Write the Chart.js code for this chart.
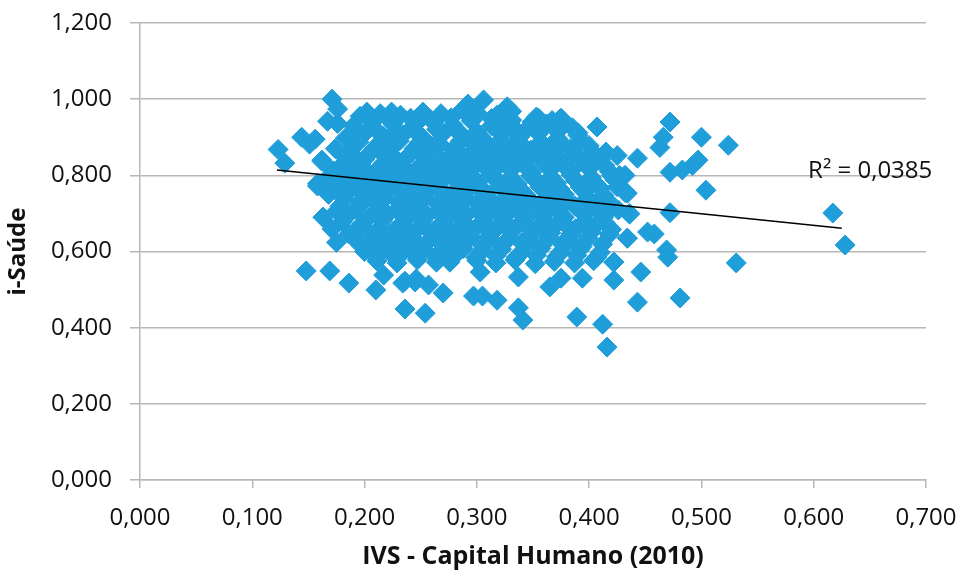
<!DOCTYPE html>
<html>
<head>
<meta charset="utf-8">
<script src="https://cdn.jsdelivr.net/npm/chart.js@4"></script>
<style>
  html, body { margin: 0; padding: 0; background: #fff; }
  #chart { display: block; }
</style>
</head>
<body>
<canvas id="chart" width="968" height="577"></canvas>
<script>
// IVS - Capital Humano (x) vs i-Saúde (y)
const nucleoSuperior = [
    [0.196,0.955],[0.214,0.962],[0.232,0.958],[0.251,0.950],[0.268,0.962],[0.287,0.972],[0.300,0.965],[0.318,0.958],[0.331,0.968],[0.355,0.950],[0.374,0.948],
    [0.176,0.936],[0.190,0.930],[0.207,0.940],[0.225,0.935],[0.243,0.928],[0.262,0.940],[0.279,0.932],[0.296,0.945],[0.313,0.930],[0.329,0.938],[0.346,0.925],[0.362,0.935],[0.385,0.925],
    [0.183,0.898],[0.200,0.910],[0.217,0.902],[0.234,0.906],[0.252,0.898],[0.270,0.910],[0.288,0.903],[0.305,0.897],[0.322,0.908],[0.338,0.900],[0.355,0.910],[0.372,0.897],[0.390,0.905],
    [0.174,0.870],[0.191,0.878],[0.209,0.872],[0.226,0.880],[0.244,0.870],[0.261,0.876],[0.279,0.868],[0.297,0.880],[0.314,0.872],[0.331,0.878],[0.348,0.866],[0.366,0.876],[0.383,0.870],[0.400,0.878],[0.415,0.861],
    [0.162,0.840],[0.183,0.846],[0.200,0.842],[0.218,0.850],[0.235,0.840],[0.253,0.848],[0.270,0.838],[0.288,0.850],[0.306,0.842],[0.323,0.846],[0.340,0.838],[0.357,0.848],[0.374,0.840],[0.392,0.846],[0.410,0.842],[0.425,0.852]
];
const nucleoCentral = [
    [0.172,0.812],[0.192,0.818],[0.210,0.810],[0.227,0.820],[0.245,0.812],[0.262,0.816],[0.280,0.808],[0.297,0.820],[0.315,0.812],[0.332,0.818],[0.349,0.808],[0.366,0.816],[0.384,0.812],[0.401,0.820],[0.418,0.810],[0.432,0.800],
    [0.158,0.778],[0.178,0.786],[0.196,0.780],[0.214,0.790],[0.231,0.782],[0.249,0.786],[0.266,0.778],[0.284,0.790],[0.301,0.782],[0.319,0.786],[0.336,0.778],[0.353,0.788],[0.371,0.780],[0.388,0.786],[0.406,0.778],[0.423,0.788],
    [0.168,0.750],[0.186,0.758],[0.204,0.750],[0.221,0.760],[0.239,0.752],[0.256,0.756],[0.274,0.748],[0.291,0.758],[0.309,0.752],[0.326,0.756],[0.344,0.748],[0.361,0.758],[0.378,0.750],[0.396,0.756],[0.413,0.748],[0.432,0.755],
    [0.178,0.719],[0.195,0.728],[0.212,0.720],[0.230,0.730],[0.247,0.722],[0.265,0.726],[0.282,0.718],[0.300,0.728],[0.317,0.722],[0.334,0.726],[0.352,0.718],[0.369,0.728],[0.387,0.720],[0.404,0.726],[0.421,0.718],
    [0.163,0.690],[0.186,0.698],[0.204,0.690],[0.221,0.698],[0.239,0.692],[0.256,0.696],[0.274,0.688],[0.291,0.698],[0.309,0.692],[0.326,0.696],[0.344,0.688],[0.361,0.698],[0.378,0.690],[0.396,0.696],[0.413,0.690],[0.436,0.698]
];
const nucleoInferior = [
    [0.171,0.659],[0.196,0.668],[0.213,0.660],[0.231,0.668],[0.248,0.662],[0.266,0.666],[0.283,0.658],[0.301,0.668],[0.318,0.662],[0.336,0.666],[0.353,0.658],[0.370,0.668],[0.388,0.660],[0.405,0.666],[0.420,0.658],
    [0.175,0.624],[0.190,0.638],[0.207,0.632],[0.225,0.638],[0.242,0.630],[0.260,0.636],[0.277,0.628],[0.295,0.638],[0.312,0.632],[0.329,0.636],[0.347,0.628],[0.364,0.638],[0.382,0.630],[0.399,0.636],[0.434,0.635],
    [0.200,0.600],[0.218,0.608],[0.235,0.600],[0.253,0.606],[0.270,0.598],[0.288,0.608],[0.305,0.602],[0.322,0.606],[0.340,0.598],[0.357,0.608],[0.375,0.600],[0.392,0.606],[0.410,0.598],
    [0.211,0.575],[0.229,0.570],[0.247,0.578],[0.264,0.572],[0.276,0.572],[0.300,0.576],[0.317,0.570],[0.334,0.578],[0.352,0.568],[0.369,0.574],[0.387,0.570],[0.404,0.576],[0.422,0.572],
    [0.217,0.538],[0.236,0.522],[0.246,0.528],[0.257,0.512],[0.303,0.546],[0.337,0.533],[0.365,0.507],[0.375,0.530],[0.394,0.530],[0.422,0.525]
];
// pontos intercalados que fecham o miolo da nuvem
const nucleoIntercalado = [
    [0.205,0.948],[0.223,0.944],[0.241,0.950],[0.259,0.946],[0.277,0.951],[0.295,0.943],[0.313,0.949],[0.331,0.945],[0.349,0.940],[0.367,0.944],
    [0.192,0.915],[0.210,0.920],[0.228,0.916],[0.246,0.913],[0.264,0.921],[0.282,0.917],[0.300,0.914],[0.318,0.920],[0.336,0.916],[0.354,0.922],[0.372,0.915],[0.390,0.912],
    [0.195,0.888],[0.213,0.884],[0.231,0.890],[0.249,0.886],[0.267,0.882],[0.285,0.889],[0.303,0.885],[0.321,0.891],[0.339,0.884],[0.357,0.888],[0.375,0.885],[0.393,0.890],
    [0.188,0.858],[0.206,0.862],[0.224,0.855],[0.242,0.859],[0.260,0.862],[0.278,0.854],[0.296,0.860],[0.314,0.857],[0.332,0.862],[0.350,0.855],[0.368,0.859],[0.386,0.856],[0.404,0.860],
    [0.180,0.828],[0.198,0.824],[0.216,0.830],[0.234,0.826],[0.252,0.831],[0.270,0.824],[0.288,0.829],[0.306,0.825],[0.324,0.832],[0.342,0.826],[0.360,0.830],[0.378,0.824],[0.396,0.829],[0.414,0.826],
    [0.168,0.796],[0.186,0.800],[0.204,0.794],[0.222,0.799],[0.240,0.802],[0.258,0.795],[0.276,0.800],[0.294,0.797],[0.312,0.802],[0.330,0.794],[0.348,0.799],[0.366,0.796],[0.384,0.801],[0.402,0.795],[0.420,0.799],
    [0.176,0.768],[0.194,0.764],[0.212,0.770],[0.230,0.766],[0.248,0.771],[0.266,0.764],[0.284,0.769],[0.302,0.765],[0.320,0.772],[0.338,0.766],[0.356,0.770],[0.374,0.764],[0.392,0.769],[0.410,0.766],[0.425,0.770],
    [0.182,0.738],[0.200,0.734],[0.218,0.740],[0.236,0.736],[0.254,0.741],[0.272,0.734],[0.290,0.739],[0.308,0.735],[0.326,0.742],[0.344,0.736],[0.362,0.740],[0.380,0.734],[0.398,0.739],[0.416,0.736],
    [0.175,0.706],[0.193,0.710],[0.211,0.704],[0.229,0.709],[0.247,0.712],[0.265,0.705],[0.283,0.710],[0.301,0.707],[0.319,0.712],[0.337,0.704],[0.355,0.709],[0.373,0.706],[0.391,0.711],[0.409,0.705],[0.426,0.709],
    [0.180,0.678],[0.198,0.674],[0.216,0.680],[0.234,0.676],[0.252,0.681],[0.270,0.674],[0.288,0.679],[0.306,0.675],[0.324,0.682],[0.342,0.676],[0.360,0.680],[0.378,0.674],[0.396,0.679],[0.414,0.676],
    [0.186,0.646],[0.204,0.650],[0.222,0.644],[0.240,0.649],[0.258,0.652],[0.276,0.645],[0.294,0.650],[0.312,0.647],[0.330,0.652],[0.348,0.644],[0.366,0.649],[0.384,0.646],[0.402,0.651],[0.418,0.645],
    [0.196,0.618],[0.214,0.614],[0.232,0.620],[0.250,0.616],[0.268,0.621],[0.286,0.614],[0.304,0.619],[0.322,0.615],[0.340,0.622],[0.358,0.616],[0.376,0.620],[0.394,0.614],[0.412,0.619],
    [0.209,0.588],[0.227,0.584],[0.245,0.590],[0.263,0.586],[0.281,0.591],[0.299,0.584],[0.317,0.589],[0.335,0.585],[0.353,0.590],[0.371,0.586],[0.389,0.590],[0.407,0.585]
];
const bordaEsquerda = [
    [0.123,0.868],[0.129,0.832],[0.144,0.900],[0.151,0.882],[0.156,0.895],[0.167,0.942],[0.176,0.974],[0.171,1.000],
    [0.162,0.837],[0.202,0.966],[0.224,0.966],[0.252,0.966],[0.158,0.772],[0.163,0.690],[0.187,0.790],
    [0.148,0.549],[0.169,0.549],[0.186,0.517],[0.210,0.499],[0.234,0.517],[0.245,0.520],[0.270,0.491],
    [0.236,0.449],[0.254,0.438],[0.297,0.483],[0.305,0.483],[0.318,0.472]
];
const bordaDireita = [
    [0.306,0.998],[0.292,0.987],[0.327,0.980],[0.353,0.953],[0.375,0.950],[0.407,0.927],[0.443,0.845],[0.427,0.800],
    [0.434,0.753],[0.436,0.700],[0.434,0.635],[0.458,0.646],[0.452,0.651],[0.470,0.585],[0.469,0.604],[0.446,0.546],
    [0.422,0.572],[0.443,0.467],[0.481,0.478],[0.389,0.428],[0.412,0.409],[0.416,0.349],[0.341,0.420],[0.337,0.452],
    [0.472,0.940],[0.466,0.900],[0.463,0.873],[0.472,0.808],[0.483,0.814],[0.492,0.826],[0.497,0.840],[0.472,0.702],
    [0.500,0.900],[0.524,0.879],[0.504,0.761],[0.531,0.570],[0.617,0.701],[0.628,0.617]
];

// linha de tendência (extremos)
const trendX = [0.122, 0.625];
const trendY = [0.814, 0.661];
const r2Text = 'R² = 0,0385';
const r2Pos = [0.595, 0.810];

const xTicks = [0, 0.1, 0.2, 0.3, 0.4, 0.5, 0.6, 0.7];
const yTicks = [0, 0.2, 0.4, 0.6, 0.8, 1.0, 1.2];

const pointColor = '#1f9ed9';
const gridColor = '#b7b7b7';
const textColor = '#111';
const fontFamily = '"Open Sans", "Liberation Sans", sans-serif';

const fmt = v => v.toFixed(3).replace('.', ',');

const pontos = [...nucleoSuperior, ...nucleoCentral, ...nucleoInferior, ...nucleoIntercalado, ...bordaEsquerda, ...bordaDireita]
    .map(p => ({x: p[0], y: p[1]}));
const trend = trendX.map((x, i) => ({x: x, y: trendY[i]}));

const r2Plugin = {
    id: 'r2Label',
    afterDatasetsDraw(chart) {
        const {ctx, scales} = chart;
        ctx.save();
        ctx.font = '24px ' + fontFamily;
        ctx.fillStyle = textColor;
        ctx.textAlign = 'left';
        ctx.textBaseline = 'middle';
        ctx.fillText(r2Text, scales.x.getPixelForValue(r2Pos[0]), scales.y.getPixelForValue(r2Pos[1]));
        ctx.restore();
    }
};

new Chart(document.getElementById('chart').getContext('2d'), {
    type: 'scatter',
    data: {
        datasets: [
            {
                type: 'line',
                data: trend,
                borderColor: '#000',
                borderWidth: 1.5,
                pointRadius: 0,
                fill: false,
                order: 0
            },
            {
                data: pontos,
                pointStyle: 'rectRot',
                pointRadius: 10,
                pointHoverRadius: 10,
                backgroundColor: pointColor,
                borderColor: pointColor,
                borderWidth: 1,
                order: 1
            }
        ]
    },
    options: {
        responsive: false,
        animation: false,
        devicePixelRatio: 1,
        layout: { padding: { top: 23, right: 42, bottom: 0, left: 0 } },
        plugins: { legend: { display: false }, tooltip: { enabled: false } },
        scales: {
            x: {
                type: 'linear',
                min: 0,
                max: 0.7,
                afterBuildTicks: s => { s.ticks = xTicks.map(v => ({value: v})); },
                afterFit: s => { s.height = 97; s.paddingLeft = 0; s.paddingRight = 0; },
                ticks: {
                    callback: v => fmt(v),
                    font: { family: fontFamily, size: 24 },
                    color: textColor,
                    padding: 16,
                    maxRotation: 0
                },
                grid: { drawOnChartArea: false, drawTicks: true, tickLength: 8, color: gridColor, lineWidth: 1.5 },
                border: { display: true, color: gridColor, width: 1.5 },
                title: {
                    display: true,
                    text: 'IVS - Capital Humano (2010)',
                    font: { family: fontFamily, size: 25, weight: 'bold' },
                    color: textColor,
                    padding: { top: 0, bottom: 5 }
                }
            },
            y: {
                min: 0,
                max: 1.2,
                afterBuildTicks: s => { s.ticks = yTicks.map(v => ({value: v})); },
                afterFit: s => { s.width = 140; s.paddingTop = 0; s.paddingBottom = 0; },
                ticks: {
                    callback: v => fmt(v),
                    font: { family: fontFamily, size: 24 },
                    color: textColor,
                    padding: 18
                },
                grid: { drawTicks: true, tickLength: 10, color: gridColor, lineWidth: 1.5 },
                border: { display: true, color: gridColor, width: 1.5 },
                title: {
                    display: true,
                    text: 'i-Saúde',
                    font: { family: fontFamily, size: 24, weight: 'bold' },
                    color: textColor,
                    padding: { top: 4, bottom: 0 }
                }
            }
        }
    },
    plugins: [r2Plugin]
});
</script>
</body>
</html>
